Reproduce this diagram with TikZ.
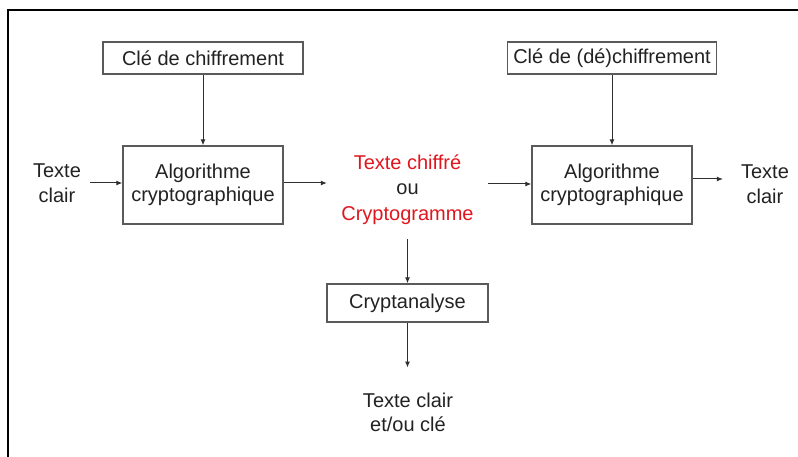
\documentclass[tikz,border=0pt]{standalone}
\usepackage{fontspec}
\setmainfont{Liberation Sans}
\usetikzlibrary{positioning,arrows.meta,calc}
\definecolor{palRed}{HTML}{E0161E}
\definecolor{palInk}{HTML}{222222}
\definecolor{palEdge}{HTML}{5A5A5A}
\definecolor{palArrow}{HTML}{2E2E2E}
\tikzset{
  keybox/.style={draw=palEdge, line width=1.4pt, minimum width=200pt,
                 minimum height=32pt, inner xsep=6pt, text=palInk,
                 font=\fontsize{20}{24}\selectfont},
  algobox/.style={draw=palEdge, line width=1.4pt, minimum width=160pt,
                  minimum height=78pt, align=center, text=palInk,
                  font=\fontsize{20}{22.5}\selectfont},
  analbox/.style={draw=palEdge, line width=1.4pt, minimum width=161pt,
                  minimum height=38pt, text=palInk,
                  font=\fontsize{20}{24}\selectfont},
  plaintext/.style={align=center, inner sep=0pt, text=palInk,
                    font=\fontsize{20}{24.5}\selectfont},
  flow/.style={-{Latex[length=6pt,width=5pt]}, line width=1pt, draw=palArrow},
}

\begin{document}
\begin{tikzpicture}[x=1pt, y=-1pt]
\useasboundingbox (0,0) rectangle (798,457);
% Column x-positions
\def\xLeft{203}    \def\xMid{407.5}
\def\xRight{612}
% Row y-positions
\def\yKey{58}      \def\yAlgo{185}     \def\yAnal{303}

%% Frame
\draw[line width=1.5pt, black] (8,457) -- (8,10) -- (799,10);

%% Keys
\node[keybox] (keyA) at (\xLeft, \yKey)  {Clé de chiffrement};
\node[keybox] (keyB) at (\xRight, \yKey) {Clé de (dé)chiffrement};

%% Algorithms
\node[algobox] (algA) at (\xLeft, \yAlgo)  {Algorithme\\cryptographique};
\node[algobox] (algB) at (\xRight, \yAlgo) {Algorithme\\cryptographique};

%% Texts
\node[plaintext, anchor=north] (inL)  at (57, 163.7)  {Texte\\clair};
\node[plaintext, anchor=north] (outR) at (765, 164.7) {Texte\\clair};
\node[plaintext, anchor=north, minimum width=161pt, font=\fontsize{20}{25.5}\selectfont]
  (msg) at (\xMid, 154.5)
  {{\color{palRed}Texte chiffré}\\ou\\{\color{palRed}Cryptogramme}};
\node[analbox] (anal) at (\xMid, \yAnal) {Cryptanalyse};
\node[plaintext, anchor=north] (outC) at (408, 392.5) {Texte clair\\et/ou clé};

%% Connectors
\draw[flow] (keyA.south) -- (algA.north);
\draw[flow] (keyB.south) -- (algB.north);
\draw[flow, shorten <=9pt] (inL.east |- 0,183) -- (algA.west |- 0,183);
\draw[flow] (algA.east |- 0,183) -- (msg.west |- 0,183);
\draw[flow] (msg.east |- 0,184) -- (algB.west |- 0,184);
\draw[flow, shorten >=18pt] (algB.east |- 0,179) -- (outR.west |- 0,179);
\draw[flow, shorten <=14pt] (msg.south -| anal.north) -- (anal.north);
\draw[flow, shorten >=25pt] (anal.south) -- (outC.north -| anal.south);
\end{tikzpicture}
\end{document}
